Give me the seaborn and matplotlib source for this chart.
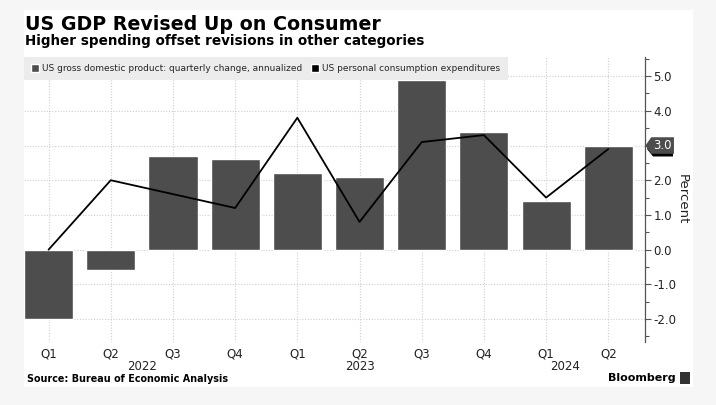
import numpy as np
import pandas as pd
import seaborn as sns
import matplotlib.pyplot as plt
from matplotlib.patches import Patch, Rectangle, Polygon
from matplotlib.path import Path
from matplotlib.ticker import MultipleLocator, FuncFormatter
import matplotlib.transforms as mtransforms

# данные с графика
quarters = ['Q1', 'Q2', 'Q3', 'Q4', 'Q1', 'Q2', 'Q3', 'Q4', 'Q1', 'Q2']
years = ['2022', '2023', '2024']
year_pos = [1.5, 5.0, 8.3]
gdp = [-2.0, -0.6, 2.7, 2.6, 2.2, 2.1, 4.9, 3.4, 1.4, 3.0]
pce = [0.0, 2.0, 1.6, 1.2, 3.8, 0.8, 3.1, 3.3, 1.5, 2.9]

GDP_LABEL = 'US gross domestic product: quarterly change, annualized'
PCE_LABEL = 'US personal consumption expenditures'
BAR_COLOR = '#4d4d4d'
GRID_COLOR = '#cfcfcf'
TEXT_COLOR = '#222222'

sns.set_theme(style='white')
plt.rcParams['font.family'] = ['DejaVu Sans']

df = pd.DataFrame({'idx': range(len(gdp)), 'gdp': gdp, 'pce': pce})

fig = plt.figure(figsize=(7.16, 4.05), dpi=100, facecolor='#f6f6f6')
# белая панель
fig.patches.append(Rectangle((24 / 716, 1 - 387 / 405), (693 - 24) / 716, (387 - 10) / 405,
                             transform=fig.transFigure, facecolor='white', edgecolor='none',
                             zorder=-5))

ax = fig.add_axes([24 / 716, 1 - 342 / 405, (645 - 24) / 716, (342 - 57) / 405])
ax.set_facecolor('none')
ax.set_zorder(2)

sns.barplot(data=df, x='idx', y='gdp', color=BAR_COLOR, width=0.79, native_scale=True,
            saturation=1, ax=ax, zorder=2)
sns.lineplot(data=df, x='idx', y='pce', color='black', linewidth=1.3, ax=ax, zorder=3)

ax.set_xlim(-0.395, 9.59)
ax.set_ylim(-2.66, 5.55)

# оси (метку 3.0 закрывает ярлык последнего значения)
last_val = gdp[-1]
ax.yaxis.tick_right()
ax.yaxis.set_label_position('right')
ax.yaxis.set_major_locator(MultipleLocator(1.0))
ax.yaxis.set_minor_locator(MultipleLocator(0.5))
ax.yaxis.set_major_formatter(FuncFormatter(lambda v, p: '' if abs(v - last_val) < 0.01 else f'{v:.1f}'))
ax.set_xticks(df['idx'])
ax.set_xticklabels(quarters)
ax.tick_params(axis='x', length=0, pad=4, labelsize=8.5, labelcolor=TEXT_COLOR)
ax.tick_params(axis='y', which='major', direction='out', length=4, width=0.8,
               color='#555555', pad=2, labelsize=8.5, labelcolor=TEXT_COLOR)
ax.tick_params(axis='y', which='minor', direction='out', length=3, width=0.8, color='#555555')
ax.set_xlabel('')
ax.set_ylabel('Percent', rotation=270, labelpad=9, fontsize=9.5, color=TEXT_COLOR)

for side in ['top', 'left', 'bottom']:
    ax.spines[side].set_visible(False)
ax.spines['right'].set_color('#555555')
ax.spines['right'].set_linewidth(0.9)

ax.grid(True, which='major', axis='both', linestyle=(0, (1, 1.5)), color=GRID_COLOR, linewidth=0.8)
ax.set_axisbelow(True)

# подписи годов
for y_label, pos in zip(years, year_pos):
    ax.text(pos, -0.062, y_label, transform=ax.get_xaxis_transform(), ha='center', va='top',
            fontsize=8.5, color=TEXT_COLOR)

# легенда
handles = [Patch(facecolor=BAR_COLOR, label=GDP_LABEL), Patch(facecolor='black', label=PCE_LABEL)]
leg = ax.legend(handles=handles, loc='upper left', bbox_to_anchor=(0, 1), ncol=2, fontsize=6.5,
                frameon=True, fancybox=False, framealpha=1, borderaxespad=0, handlelength=0.9,
                handleheight=0.9, handletextpad=0.3, columnspacing=1.0, borderpad=0.8)
leg.get_frame().set_facecolor('#ececec')
leg.get_frame().set_edgecolor('none')
leg.set_zorder(5)


# ярлыки последних значений на правой оси
def tag_box(x0, y0, width, height, mutation_size):
    pad = 0.3 * mutation_size
    x0 -= pad * 0.6
    y0 -= pad * 0.5
    width += pad * 1.2
    height += pad
    tip = height * 0.35
    verts = [(x0, y0), (x0 + width, y0), (x0 + width, y0 + height), (x0, y0 + height),
             (x0 - tip, y0 + height / 2), (x0, y0)]
    return Path(verts, closed=True)


trans = mtransforms.blended_transform_factory(ax.transAxes, ax.transData)
# ярлык PCE почти целиком спрятан под ярлыком ВВП (рисуем только фигуру)
tag_shape = [(2, 0), (8, 7.5), (28, 7.5), (28, -7.5), (8, -7.5)]
pce_tag = Polygon(tag_shape, closed=True, facecolor='black', edgecolor='none', clip_on=False,
                  zorder=6,
                  transform=mtransforms.ScaledTranslation(1.0, pce[-1], trans))
ax.add_patch(pce_tag)
ax.annotate(f'{gdp[-1]:.1f}', xy=(1.0, gdp[-1]), xycoords=trans, xytext=(6, 0),
            textcoords='offset points', ha='left', va='center', fontsize=8.5, color='white',
            bbox=dict(boxstyle=tag_box, facecolor=BAR_COLOR, edgecolor='none'),
            annotation_clip=False, zorder=7)

# заголовки
fig.text(25 / 716, 1 - 14.5 / 405, 'US GDP Revised Up on Consumer', ha='left', va='top',
         fontsize=13.7, fontweight='bold', color='black')
fig.text(25 / 716, 1 - 33.5 / 405, 'Higher spending offset revisions in other categories', ha='left',
         va='top', fontsize=9.75, fontweight='bold', color='black')
fig.text(27 / 716, 1 - 379 / 405, 'Source: Bureau of Economic Analysis', ha='left', va='center',
         fontsize=6.9, fontweight='bold', color='black')
fig.text(676 / 716, 1 - 378 / 405, 'Bloomberg', ha='right', va='center', fontsize=8,
         fontweight='bold', color='black')
fig.patches.append(Rectangle((680 / 716, 1 - 384 / 405), 10 / 716, 12 / 405,
                             transform=fig.transFigure, facecolor='#333333', edgecolor='none'))

fig.savefig('out.png', dpi=100, facecolor=fig.get_facecolor())
